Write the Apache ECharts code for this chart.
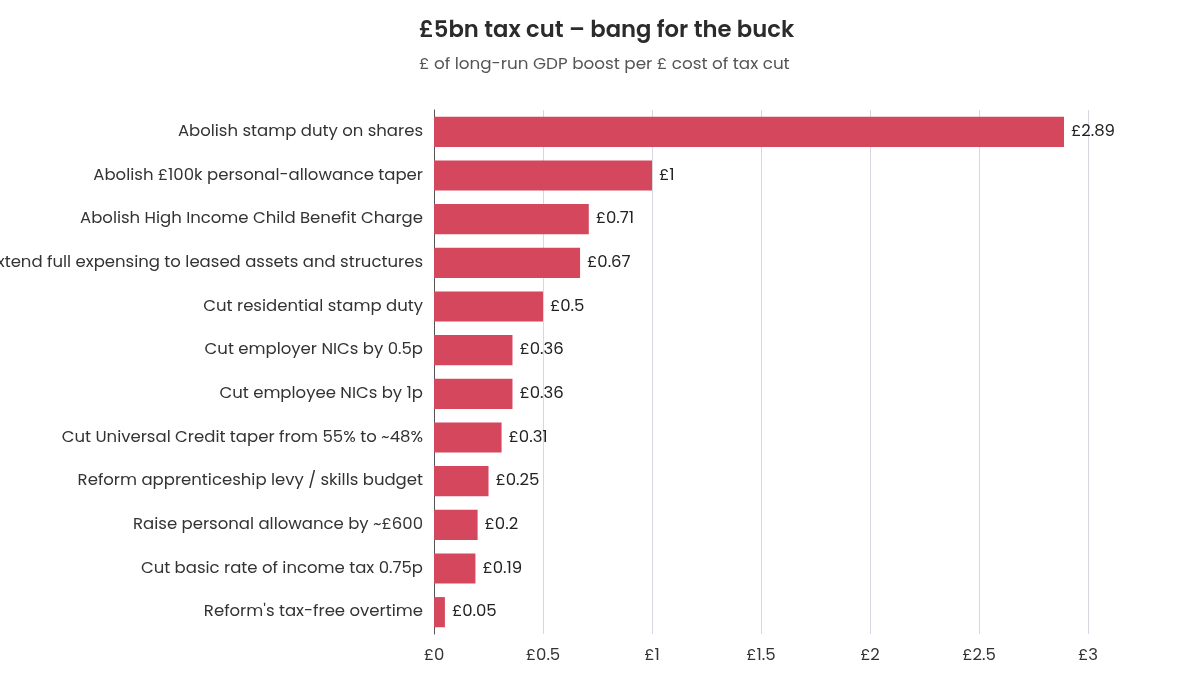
<!DOCTYPE html>
<html>
<head>
<meta charset="utf-8">
<script src="https://cdn.jsdelivr.net/npm/echarts@6/dist/echarts.min.js"></script>
<style>
  html, body { margin: 0; padding: 0; background: #fff; }
  #chart { width: 1200px; height: 675px; }
</style>
</head>
<body>
<div id="chart"></div>
<script>
var categories = [
    'Abolish stamp duty on shares',
    'Abolish £100k personal-allowance taper',
    'Abolish High Income Child Benefit Charge',
    'Extend full expensing to leased assets and structures',
    'Cut residential stamp duty',
    'Cut employer NICs by 0.5p',
    'Cut employee NICs by 1p',
    'Cut Universal Credit taper from 55% to ~48%',
    'Reform apprenticeship levy / skills budget',
    'Raise personal allowance by ~£600',
    'Cut basic rate of income tax 0.75p',
    "Reform's tax-free overtime"
];
var values = [2.89, 1, 0.71, 0.67, 0.5, 0.36, 0.36, 0.31, 0.25, 0.2, 0.19, 0.05];

var font = 'Poppins, "Noto Sans", sans-serif';

var chart = echarts.init(document.getElementById('chart'));

var option = {
    backgroundColor: '#fff',
    animation: false,
    textStyle: { fontFamily: font },
    title: {
        text: '£5bn tax cut – bang for the buck',
        subtext: '£ of long-run GDP boost per £ cost of tax cut',
        left: 414,
        top: 15,
        itemGap: 13,
        textStyle: { fontSize: 22.7, fontWeight: 600, color: '#2b2b2b', fontFamily: font },
        subtextStyle: { fontSize: 16.8, color: '#555', fontFamily: font }
    },
    grid: { left: 434, right: 112, top: 110, bottom: 41, containLabel: false, outerBoundsMode: 'none' },
    xAxis: {
        type: 'value',
        min: 0,
        max: 3,
        interval: 0.5,
        axisLine: { show: false },
        axisTick: { show: false },
        splitLine: { lineStyle: { color: '#d5d8e3', width: 1 } },
        axisLabel: {
            margin: 13,
            fontSize: 16.5,
            color: '#333',
            formatter: function (v) { return '£' + v; }
        }
    },
    yAxis: {
        type: 'category',
        data: categories,
        inverse: true,
        axisLine: { show: true, lineStyle: { color: '#555', width: 1 } },
        axisTick: { show: false },
        axisLabel: { margin: 11, fontSize: 16.5, color: '#333' }
    },
    series: [{
        type: 'bar',
        data: values,
        barCategoryGap: '31%',
        itemStyle: { color: '#d4475c' },
        label: {
            show: true,
            position: 'right',
            distance: 7,
            fontSize: 16.5,
            color: '#222',
            formatter: function (p) { return '£' + p.value; }
        }
    }]
};

chart.setOption(option);
</script>
</body>
</html>
